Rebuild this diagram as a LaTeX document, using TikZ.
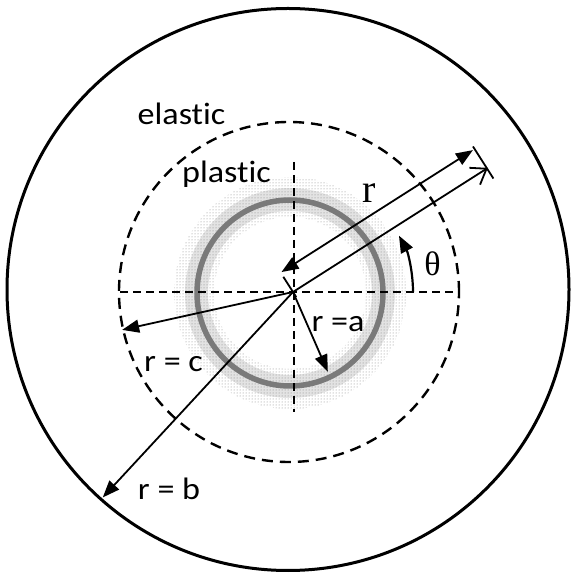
\documentclass[tikz,border=0pt]{standalone}
\usepackage{fontspec}
\usepackage{tikz}
\usetikzlibrary{arrows.meta,calc,patterns}
\newfontfamily\lblfont[FakeStretch=1.1,Ligatures=NoCommon]{Carlito}
\newfontfamily\serfont{Liberation Serif}
\definecolor{cInk}{HTML}{000000}
\definecolor{cRing}{HTML}{7A7A7A}
\tikzset{
  ar/.style    ={-{Triangle[length=17pt,width=13pt]},line width=1.8pt,cInk},
  dar/.style   ={{Triangle[length=17pt,width=13pt]}-{Triangle[length=17pt,width=13pt]},
                 line width=1.8pt,cInk},
  oar/.style   ={-{Straight Barb[length=14pt,width=20pt]},line width=1.8pt,cInk},
  ext/.style   ={line width=1.8pt,cInk},
  axis/.style  ={line width=2.2pt,dash pattern=on 8pt off 5pt},
  zone/.style  ={line width=2.4pt,dash pattern=on 11pt off 7pt},
  lbl/.style   ={font=\lblfont\fontsize{31}{33}\selectfont,inner sep=0pt,anchor=base},
  sym/.style   ={font=\serfont\fontsize{40}{42}\selectfont,inner sep=0pt},
}

\begin{document}
\begin{tikzpicture}[x=1pt,y=1pt]
\useasboundingbox (0,0) rectangle (571,573);
\coordinate (O)  at (293,281);
\coordinate (Cb) at (288,283.5);
\coordinate (Cc) at (289,281);
\coordinate (Ca) at (290,280);
% halo round the hole r = a
\fill[gray!22,even odd rule] (Ca) circle[radius=105pt] (Ca) circle[radius=82pt];
\fill[pattern=dots,pattern color=gray,even odd rule]
  (Ca) circle[radius=116pt] (Ca) circle[radius=76pt];
\draw[cRing,line width=5.5pt] (Ca) circle[radius=93pt];
% outer and elastic-plastic boundaries
\draw[line width=3pt] (Cb) circle[radius=281pt];
\draw[zone] (Cc) circle[radius=170pt];
% axes
\coordinate (xl) at (120,281);
\coordinate (xr) at (455,281);
\coordinate (yt) at (294,411);
\coordinate (yb) at (294,161);
\draw[axis] (xl) -- (xr);
\draw[axis] (yt) -- (yb);
% radii
\path (O) ++(192.5:175) coordinate (rc);
\path (O) ++(227.2:280) coordinate (rb);
\path (O) ++(-66.4:87) coordinate (ra);
\draw[ar] (O) -- (rc);
\draw[ar] (O) -- (rb);
\draw[ar] (O) -- (ra);
% polar coordinate r, theta
\path (O) ++(32.5:231) coordinate (tipr);
\coordinate (d0) at ($(O)+(122.5:23)+(32.5:1)$);
\coordinate (d1) at ($(O)+(122.5:23)+(32.5:228)$);
\draw[oar] (O) -- (tipr);
\draw[ext] ($(O)+(122.5:-6)$) -- ($(O)+(122.5:18)$);
\draw[ext] ($(tipr)+(122.5:-12)+(32.5:-1)$) -- ($(tipr)+(122.5:26)+(32.5:-1)$);
\draw[dar] (d0) -- (d1);
\coordinate (th0) at ($(O)+(120,0)$);
\draw[ar,line width=2.2pt] (th0) arc[start angle=0,end angle=28,radius=120pt];
% labels
\node[lbl] (elastic) at (181.5,448) {elastic};
\node[lbl] (plastic) at (226.5,390) {plastic};
\node[lbl] (lc) at (173.5,201) {r = c};
\node[lbl] (lb) at (169,73) {r = b};
\node[lbl] (la) at (338,241) {r =a};
\node[sym,anchor=base] (lr) at (369,370) {r};
\node[sym,font=\serfont\fontsize{34}{36}\selectfont] (lth) at (432.5,309) {θ};
\end{tikzpicture}
\end{document}
